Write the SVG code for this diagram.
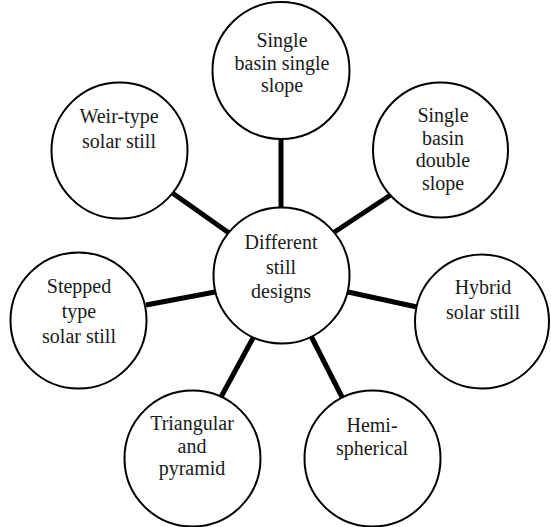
<svg xmlns="http://www.w3.org/2000/svg" width="551" height="527" viewBox="0 0 551 527">
<style>
.bg{fill:#fff}
.c{fill:#fff;stroke:#000;stroke-width:2}
.e{stroke:#000;stroke-width:5;fill:none}
.t{font-family:"Liberation Serif","Times New Roman",serif;font-size:20px;fill:#1a1a1a;text-anchor:middle}
</style>
<rect class="bg" x="0" y="0" width="551" height="527"/>
<g id="connectors">
<line class="e" x1="281" y1="136" x2="281" y2="210"/>
<line class="e" x1="392" y1="194" x2="333" y2="233"/>
<line class="e" x1="348" y1="292" x2="417" y2="307"/>
<line class="e" x1="311" y1="336" x2="343" y2="399"/>
<line class="e" x1="253" y1="338" x2="221" y2="397"/>
<line class="e" x1="146" y1="305" x2="215" y2="292"/>
<line class="e" x1="171" y1="192" x2="229" y2="233"/>
</g>
<g id="center">
<circle class="c" cx="281.5" cy="275.5" r="68"/>
<text class="t" x="281" y="249">Different</text>
<text class="t" x="281" y="274">still</text>
<text class="t" x="281" y="298">designs</text>
</g>
<g id="n-single-single">
<circle class="c" cx="281" cy="70.5" r="68.5"/>
<text class="t" x="282" y="47">Single</text>
<text class="t" x="282" y="69.5">basin single</text>
<text class="t" x="282" y="92">slope</text>
</g>
<g id="n-single-double">
<circle class="c" cx="440.5" cy="150" r="67.5"/>
<text class="t" x="443" y="122">Single</text>
<text class="t" x="443" y="144.5">basin</text>
<text class="t" x="443" y="167">double</text>
<text class="t" x="443" y="189.5">slope</text>
</g>
<g id="n-hybrid">
<circle class="c" cx="482" cy="321.5" r="67"/>
<text class="t" x="483" y="294">Hybrid</text>
<text class="t" x="483" y="319">solar still</text>
</g>
<g id="n-hemi">
<circle class="c" cx="372.5" cy="458.5" r="68"/>
<text class="t" x="372" y="432">Hemi-</text>
<text class="t" x="372" y="455">spherical</text>
</g>
<g id="n-triangular">
<circle class="c" cx="192.5" cy="458.5" r="68"/>
<text class="t" x="192" y="430">Triangular</text>
<text class="t" x="192" y="452.5">and</text>
<text class="t" x="192" y="475">pyramid</text>
</g>
<g id="n-stepped">
<circle class="c" cx="78.5" cy="320.5" r="68"/>
<text class="t" x="79" y="293">Stepped</text>
<text class="t" x="79" y="317.5">type</text>
<text class="t" x="79" y="342.5">solar still</text>
</g>
<g id="n-weir">
<circle class="c" cx="119.5" cy="150.5" r="68"/>
<text class="t" x="119" y="122.5">Weir-type</text>
<text class="t" x="119" y="148">solar still</text>
</g>
</svg>
